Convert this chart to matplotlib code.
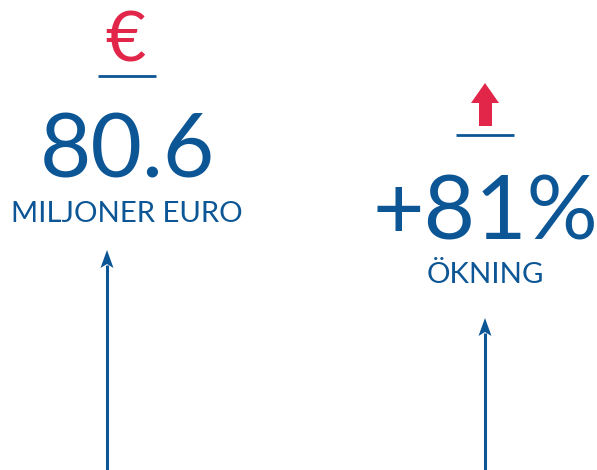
import matplotlib.pyplot as plt
from matplotlib.patches import Polygon

# figures shown in the infographic
values = ["80.6", "+81%"]
labels = ["MILJONER EURO", "ÖKNING"]
icons = ["€", "arrow"]

blue = "#0d5696"
red = "#e2264a"

fig = plt.figure(figsize=(5.97, 4.70), dpi=100)
ax = fig.add_axes([0, 0, 1, 1])
ax.set_xlim(0, 597)
ax.set_ylim(470, 0)
ax.axis("off")

plt.rcParams['font.family'] = ['Lato', 'DejaVu Sans']

# column layout (pixels)
cx = [127, 485]
icon_line_y = [76, 135]
value_base = [178, 240]
label_base = [222, 283]
arrow_x = [107, 485]
arrow_tip = [250, 318]

for i in range(2):
    # icon
    if icons[i] == "€":
        ax.text(cx[i] - 2, 62, "€", color=red, fontsize=50,
                ha="center", va="baseline")
    else:
        ax.add_patch(Polygon([(479, 126), (492, 126), (492, 103), (499, 103),
                              (485, 83), (471, 103), (479, 103)],
                             closed=True, color=red, lw=0))
    ax.plot([cx[i] - 29, cx[i] + 29], [icon_line_y[i]] * 2, color=blue, lw=2,
            solid_capstyle="butt")
    ax.text(cx[i], value_base[i], values[i], color=blue, fontsize=64,
            ha="center", va="baseline")
    ax.text(cx[i], label_base[i], labels[i], color=blue, fontsize=21.2,
            ha="center", va="baseline")
    # pointer arrow
    ax.plot([arrow_x[i], arrow_x[i]], [470, arrow_tip[i] + 15], color=blue, lw=2.2,
            solid_capstyle="butt")
    ax.add_patch(Polygon([(arrow_x[i] - 6.5, arrow_tip[i] + 18),
                          (arrow_x[i], arrow_tip[i]),
                          (arrow_x[i] + 6.5, arrow_tip[i] + 18),
                          (arrow_x[i], arrow_tip[i] + 14)],
                         closed=True, color=blue, lw=0))

fig.savefig("out.png", dpi=100)
